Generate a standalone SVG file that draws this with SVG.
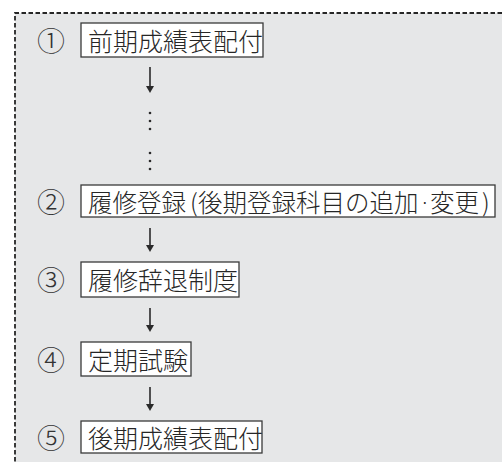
<svg xmlns="http://www.w3.org/2000/svg" width="502" height="462" viewBox="0 0 502 462">
<style>
.box{fill:#fff;stroke:#3a3a3a;stroke-width:1.3}
.t{font-family:"Noto Sans CJK JP","Noto Sans CJK SC",sans-serif;font-size:25px;fill:#262626;dominant-baseline:central;font-weight:300}
.n{font-family:"Noto Sans CJK JP","Noto Sans CJK SC",sans-serif;font-size:28px;fill:#333;dominant-baseline:central;text-anchor:middle;font-weight:300}
.dot{fill:#2a2a2a}
.ln{stroke:#2a2a2a;stroke-width:1.6}
.hd{fill:#2a2a2a}
.border{stroke:#262626;stroke-width:1.8;stroke-dasharray:4.5 2.5;fill:none}
</style>
<rect x="0" y="0" width="502" height="462" fill="#fff"/>
<rect x="15" y="13" width="487" height="449" fill="#e6e7e8"/>
<path class="border" d="M502,13 L15,13 L15,462"/>
<g id="connectors">
<line class="ln" x1="150" y1="67" x2="150" y2="88"/>
<path class="hd" d="M146,86 L154,86 L150,93 Z"/>
<circle class="dot" cx="150" cy="113" r="1.3"/>
<circle class="dot" cx="150" cy="121" r="1.3"/>
<circle class="dot" cx="150" cy="129" r="1.3"/>
<circle class="dot" cx="150" cy="153" r="1.3"/>
<circle class="dot" cx="150" cy="161" r="1.3"/>
<circle class="dot" cx="150" cy="169" r="1.3"/>
<line class="ln" x1="150" y1="228" x2="150" y2="247"/>
<path class="hd" d="M146,245 L154,245 L150,252 Z"/>
<line class="ln" x1="150" y1="308" x2="150" y2="327"/>
<path class="hd" d="M146,325 L154,325 L150,332 Z"/>
<line class="ln" x1="150" y1="387" x2="150" y2="406"/>
<path class="hd" d="M146,404 L154,404 L150,411 Z"/>
</g>
<g id="node1">
<text class="n" x="51" y="40">①</text>
<rect class="box" x="81" y="23" width="182" height="34"/>
<text class="t" x="88" y="40">前期成績表配付</text>
</g>
<g id="node2">
<text class="n" x="51" y="201">②</text>
<rect class="box" x="81" y="185" width="414" height="32"/>
<text class="t" y="201" style="font-size:24.5px"><tspan x="88">履修登録</tspan><tspan x="190">(</tspan><tspan x="198">後期登録科目の追加</tspan><tspan x="420" style="font-size:18px">·</tspan><tspan x="430">変更</tspan><tspan x="482">)</tspan></text>
</g>
<g id="node3">
<text class="n" x="51" y="279">③</text>
<rect class="box" x="81" y="262" width="158" height="35"/>
<text class="t" x="88" y="279">履修辞退制度</text>
</g>
<g id="node4">
<text class="n" x="51" y="359">④</text>
<rect class="box" x="81" y="342" width="110" height="34"/>
<text class="t" x="88" y="359">定期試験</text>
</g>
<g id="node5">
<text class="n" x="51" y="437">⑤</text>
<rect class="box" x="81" y="421" width="181" height="32"/>
<text class="t" x="88" y="437">後期成績表配付</text>
</g>
</svg>
